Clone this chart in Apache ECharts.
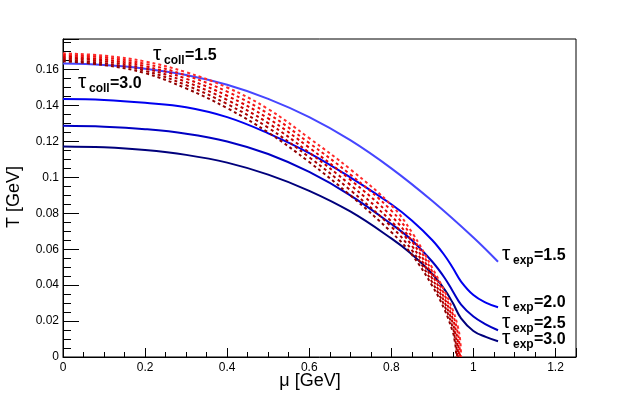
<!DOCTYPE html>
<html><head><meta charset="utf-8">
<script src="https://cdn.jsdelivr.net/npm/echarts@6/dist/echarts.min.js"></script>
<style>html,body{margin:0;padding:0;background:#fff}#c{width:640px;height:397px}</style>
</head><body><div id="c"></div>
<script>
// ---- data ----
const muExp15 = [0, 0.1, 0.2, 0.3, 0.4, 0.5, 0.6, 0.7, 0.8, 0.9, 1.0, 1.06];
const tExp15  = [0.1633, 0.1625, 0.1605, 0.1570, 0.1515, 0.1437, 0.1335, 0.1207, 0.1050, 0.0868, 0.0665, 0.0530];
const muExp   = [0, 0.1, 0.2, 0.3, 0.4, 0.5, 0.6, 0.7, 0.8, 0.85, 0.9, 0.93, 0.95, 0.97, 1.0, 1.03, 1.06];
const tExp20  = [0.1436, 0.1431, 0.1415, 0.1390, 0.1335, 0.1245, 0.1135, 0.1000, 0.0850, 0.0760, 0.0650, 0.0565, 0.0495, 0.0420, 0.0345, 0.0303, 0.0277];
const tExp25  = [0.1287, 0.1282, 0.1268, 0.1243, 0.1200, 0.1130, 0.1030, 0.0900, 0.0740, 0.0650, 0.0530, 0.0440, 0.0365, 0.0292, 0.0225, 0.0182, 0.0149];
const tExp30  = [0.1172, 0.1167, 0.1152, 0.1125, 0.1082, 0.1015, 0.0925, 0.0810, 0.0660, 0.0572, 0.0462, 0.0375, 0.0300, 0.0215, 0.0145, 0.0112, 0.0088];

const muColl = [0, 0.1, 0.2, 0.3, 0.4, 0.5, 0.6, 0.7, 0.8, 0.85, 0.9, 0.93, 0.95];
const tColl1 = [0.1690, 0.1677, 0.1645, 0.1585, 0.1500, 0.1380, 0.1218, 0.1045, 0.0845, 0.0695, 0.0495, 0.0365, 0.0260];
const tColl2 = [0.1681, 0.1667, 0.1632, 0.1567, 0.1477, 0.1354, 0.1191, 0.1016, 0.0815, 0.0670, 0.0475, 0.0344, 0.0236];
const tColl3 = [0.1672, 0.1656, 0.1619, 0.1549, 0.1454, 0.1328, 0.1165, 0.0987, 0.0785, 0.0645, 0.0455, 0.0324, 0.0211];
const tColl4 = [0.1664, 0.1646, 0.1606, 0.1531, 0.1431, 0.1302, 0.1138, 0.0958, 0.0755, 0.0620, 0.0435, 0.0303, 0.0187];
const tColl5 = [0.1655, 0.1635, 0.1593, 0.1513, 0.1408, 0.1276, 0.1112, 0.0929, 0.0725, 0.0595, 0.0415, 0.0283, 0.0162];
const tColl6 = [0.1646, 0.1625, 0.1580, 0.1495, 0.1385, 0.1250, 0.1085, 0.0900, 0.0695, 0.0570, 0.0395, 0.0262, 0.0138];
const tailColl1 = [[0.962, 0.0170], [0.968, 0.0090], [0.9700, 0]];
const tailColl2 = [[0.960, 0.0155], [0.9655, 0.0080], [0.9676, 0]];
const tailColl3 = [[0.958, 0.0140], [0.963, 0.0072], [0.9652, 0]];
const tailColl4 = [[0.956, 0.0125], [0.961, 0.0065], [0.9628, 0]];
const tailColl5 = [[0.955, 0.0105], [0.9585, 0.0055], [0.9604, 0]];
const tailColl6 = [[0.954, 0.0095], [0.957, 0.0050], [0.9580, 0]];

const xTickLabels = ['0', '0.2', '0.4', '0.6', '0.8', '1', '1.2'];
const yTickLabels = ['0', '0.02', '0.04', '0.06', '0.08', '0.1', '0.12', '0.14', '0.16'];
const expNames = ['1.5', '2.0', '2.5', '3.0'];
const collNames = ['1.5', '3.0'];

// ---- build ----
const pair = (xs, ys) => xs.map((x, i) => [x, ys[i]]);
const blueSets = [[muExp15, tExp15], [muExp, tExp20], [muExp, tExp25], [muExp, tExp30]];
const blueColors = ['#4646ff', '#0000f0', '#0000c4', '#00007c'];
const redSets = [[tColl1, tailColl1], [tColl2, tailColl2], [tColl3, tailColl3], [tColl4, tailColl4], [tColl5, tailColl5], [tColl6, tailColl6]];
const redColors = ['#ff2a2a', '#f21010', '#dd0000', '#c40000', '#aa0000', '#900000'];

const series = [];
blueSets.forEach(([xs, ys], i) => series.push({
  type: 'line', data: pair(xs, ys), showSymbol: false, smooth: 0.4,
  lineStyle: { color: blueColors[i], width: 2 }, z: 2, silent: true
}));
redSets.forEach(([ys, tail], i) => series.push({
  type: 'line', data: pair(muColl, ys).concat(tail), showSymbol: false, smooth: 0.4,
  lineStyle: { color: redColors[i], width: 2, type: [3, 3] }, z: 3, silent: true
}));

function near(v, step) { const k = v / step; return Math.abs(k - Math.round(k)) < 1e-6; }

const font = 'Liberation Sans, Arial, Helvetica, sans-serif';
const axBase = { type: 'value', splitLine: { show: false } };
const xMain = Object.assign({}, axBase, {
  min: 0, max: 1.25, interval: 0.2, position: 'bottom',
  axisLine: { show: true, onZero: false, lineStyle: { color: '#000', width: 1 } },
  axisTick: { show: true, inside: true, length: 9, lineStyle: { color: '#000' } },
  axisLabel: { margin: 5, color: '#000', fontSize: 12, fontFamily: font,
    formatter: v => near(v, 0.2) ? (xTickLabels[Math.round(v / 0.2)] || '') : '' }
});
const xMinor = Object.assign({}, axBase, {
  min: 0, max: 1.25, interval: 0.05, position: 'bottom',
  axisLine: { show: false }, axisLabel: { show: false },
  axisTick: { show: true, inside: true, length: 5, lineStyle: { color: '#000' } }
});
const yMain = Object.assign({}, axBase, {
  min: 0, max: 0.177, interval: 0.02, position: 'left',
  axisLine: { show: true, onZero: false, lineStyle: { color: '#000', width: 1 } },
  axisTick: { show: true, inside: true, length: 16, lineStyle: { color: '#000' } },
  axisLabel: { margin: 4, color: '#000', fontSize: 12, fontFamily: font,
    formatter: v => near(v, 0.02) ? (yTickLabels[Math.round(v / 0.02)] || '') : '' }
});
const yMinor = Object.assign({}, axBase, {
  min: 0, max: 0.177, interval: 0.005, position: 'left',
  axisLine: { show: false }, axisLabel: { show: false },
  axisTick: { show: true, inside: true, length: 8, lineStyle: { color: '#000' } }
});

// label helper: tau + subscript + value, anchored at tau-left x0 and baseline b
function tauLabel(x0, b, sub, val) {
  return [
    { type: 'text', x: x0, y: b - 7, style: { text: 'τ', font: '21px ' + font, fill: '#000', align: 'left', verticalAlign: 'middle' } },
    { type: 'text', x: x0 + 11, y: b - 0.2, style: { text: sub, font: 'bold 12px ' + font, fill: '#000', align: 'left', verticalAlign: 'middle' } },
    { type: 'text', x: x0 + 32, y: b - 5.6, style: { text: '=' + val, font: 'bold 16px ' + font, fill: '#000', align: 'left', verticalAlign: 'middle' } }
  ];
}
const graphics = [].concat(
  tauLabel(502, 261, 'exp', expNames[0]),
  tauLabel(502, 308, 'exp', expNames[1]),
  tauLabel(502, 329, 'exp', expNames[2]),
  tauLabel(502, 345, 'exp', expNames[3]),
  tauLabel(153, 61, 'coll', collNames[0]),
  tauLabel(78, 89, 'coll', collNames[1]),
  [
    { type: 'text', x: 14, y: 197, rotation: Math.PI / 2, style: { text: 'T [GeV]', font: '18px ' + font, fill: '#000', align: 'center', verticalAlign: 'middle' } },
    { type: 'text', x: 310, y: 381, style: { text: 'μ [GeV]', font: '18px ' + font, fill: '#000', align: 'center', verticalAlign: 'middle' } }
  ]
);

const chart = echarts.init(document.getElementById('c'), null, { renderer: 'canvas' });
chart.setOption({
  animation: false,
  backgroundColor: '#fff',
  grid: { left: 63, right: 64, top: 39, bottom: 40, show: true, borderColor: '#000', borderWidth: 1, backgroundColor: 'transparent' },
  xAxis: [xMain, xMinor],
  yAxis: [yMain, yMinor],
  series: series,
  graphic: graphics
});
</script></body></html>
